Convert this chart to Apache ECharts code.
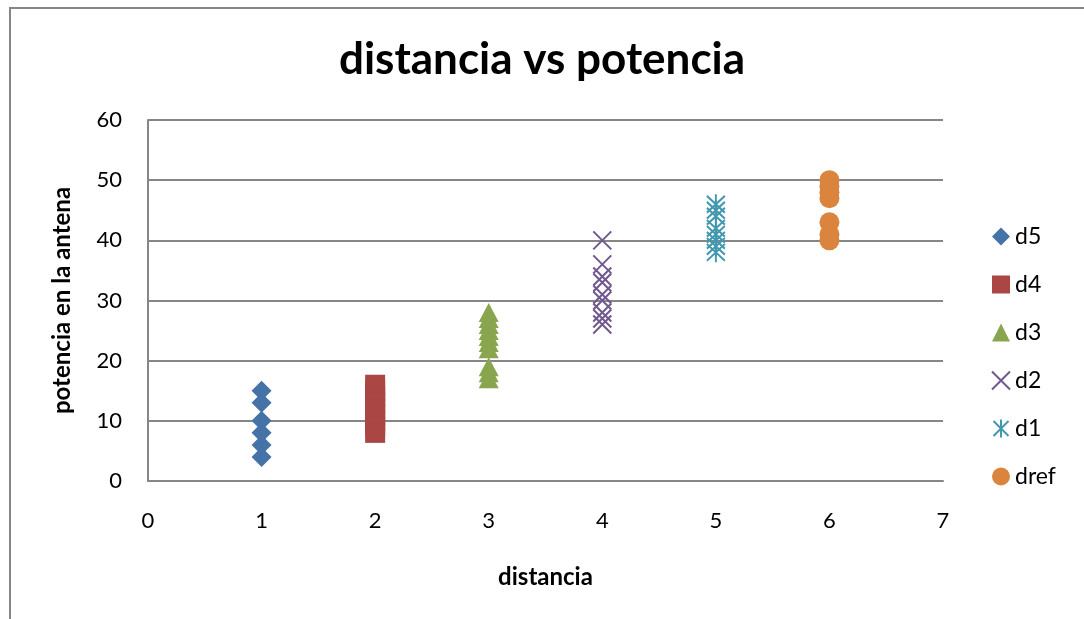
<!DOCTYPE html>
<html>
<head>
<meta charset="utf-8">
<script src="https://cdn.jsdelivr.net/npm/echarts@6/dist/echarts.min.js"></script>
<style>
html,body{margin:0;padding:0;background:#fff;}
#main{width:1084px;height:619px;}
</style>
</head>
<body>
<div id="main"></div>
<script>
var seriesNames = ['d5', 'd4', 'd3', 'd2', 'd1', 'dref'];
var xPositions = [1, 2, 3, 4, 5, 6];
var d5 = [15, 13, 10, 8, 6, 4];
var d4 = [16, 15, 14, 13, 12, 11, 10, 9, 8];
var d3 = [28, 27, 26, 25, 24, 23, 22, 19, 18, 17];
var d2 = [40, 36, 34, 33, 31, 30, 28, 27, 26];
var d1 = [46, 45, 44, 42, 41, 40, 39, 38];
var dref = [50, 49, 48, 47, 43, 41, 40];
var xTicks = [0, 1, 2, 3, 4, 5, 6, 7];
var yTicks = [0, 10, 20, 30, 40, 50, 60];

var allValues = [d5, d4, d3, d2, d1, dref];
var colors = ['#4572A7', '#AA4643', '#89A54E', '#71588F', '#4198AF', '#DB843D'];
var XPATH = 'path://M0,0L10,10M10,0L0,10';
var STARPATH = 'path://M0,0L10,10M10,0L0,10M5,-1L5,11';
var symbols = ['diamond', 'rect', 'triangle', XPATH, STARPATH, 'circle'];
var sizes = [[20, 20], [20, 20], [20, 19], [18, 18], [18, 20], [20, 20]];
var FONT = 'Lato, "Open Sans", sans-serif';

function styleFor(i) {
  var isLine = (i === 3 || i === 4);
  return isLine ? {
    color: 'rgba(0,0,0,0)',
    borderColor: colors[i],
    borderWidth: 2,
    opacity: 1
  } : { color: colors[i], opacity: 1 };
}

var series = seriesNames.map(function (name, i) {
  return {
    name: name,
    type: 'scatter',
    symbol: symbols[i],
    symbolSize: sizes[i],
    data: allValues[i].map(function (v) { return [xPositions[i], v]; }),
    itemStyle: styleFor(i),
    emphasis: { disabled: true }
  };
});

var chart = echarts.init(document.getElementById('main'), null, { renderer: 'canvas' });
chart.setOption({
  animation: false,
  backgroundColor: '#ffffff',
  title: {
    text: 'distancia vs potencia',
    left: 'center',
    top: 33,
    textStyle: { fontFamily: FONT, fontSize: 44, fontWeight: 'bold', color: '#000' }
  },
  legend: {
    orient: 'vertical',
    left: 986,
    top: 220,
    itemWidth: 18,
    itemHeight: 18,
    itemGap: 25,
    textStyle: { fontFamily: FONT, fontSize: 23, color: '#000' },
    data: seriesNames.map(function (n, i) {
      return { name: n, icon: symbols[i], itemStyle: styleFor(i) };
    })
  },
  grid: { left: 148, right: 141, top: 120, bottom: 138, containLabel: false },
  xAxis: {
    type: 'value',
    min: xTicks[0],
    max: xTicks[xTicks.length - 1],
    interval: 1,
    name: 'distancia',
    nameLocation: 'middle',
    nameGap: 84,
    nameTextStyle: { fontFamily: FONT, fontSize: 24, fontWeight: 'bold', color: '#000' },
    axisLine: { show: true, lineStyle: { color: '#868686', width: 2 } },
    axisTick: { show: false },
    splitLine: { show: false },
    axisLabel: { fontFamily: FONT, fontSize: 22, color: '#000', margin: 29 }
  },
  yAxis: {
    type: 'value',
    min: yTicks[0],
    max: yTicks[yTicks.length - 1],
    interval: 10,
    name: 'potencia en la antena',
    nameLocation: 'middle',
    nameGap: 74,
    nameRotate: 90,
    nameTextStyle: { fontFamily: FONT, fontSize: 24, fontWeight: 'bold', color: '#000' },
    axisLine: { show: true, lineStyle: { color: '#868686', width: 2 } },
    axisTick: { show: false },
    splitLine: { show: true, lineStyle: { color: '#868686', width: 2 } },
    axisLabel: { fontFamily: FONT, fontSize: 22, color: '#000', margin: 26 }
  },
  graphic: [{
    type: 'polyline',
    shape: { points: [[10, 625], [10, 8], [1090, 8]] },
    style: { stroke: '#868686', lineWidth: 2, fill: null },
    silent: true
  }],
  series: series
});
</script>
</body>
</html>
